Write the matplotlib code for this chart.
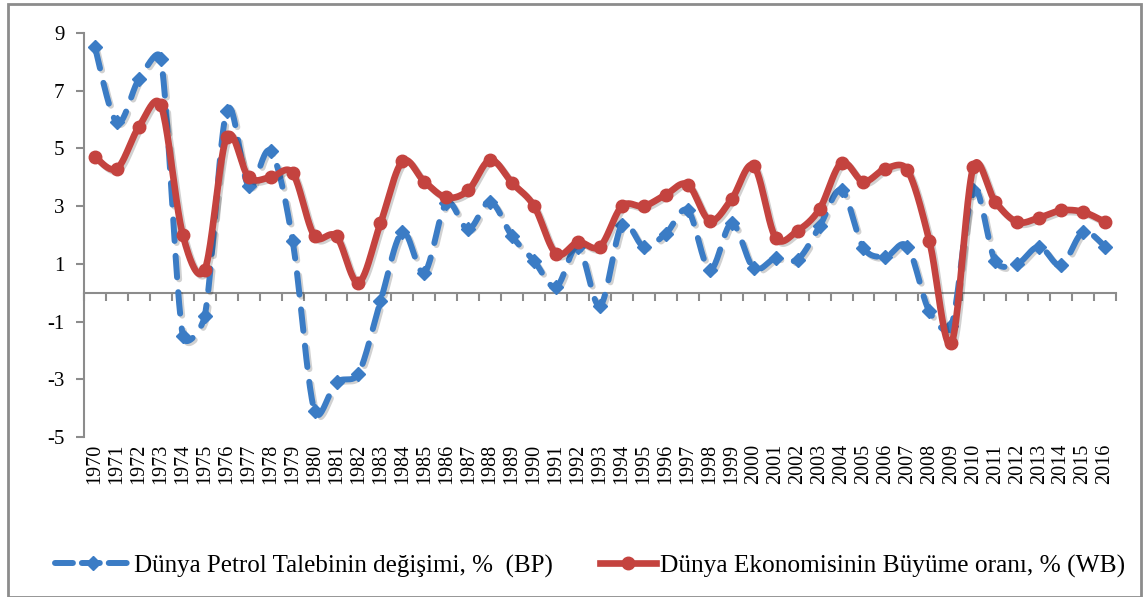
import numpy as np
import matplotlib
matplotlib.use("Agg")
import matplotlib.pyplot as plt
from matplotlib.lines import Line2D
from matplotlib.patches import Rectangle
import matplotlib.patheffects as pe

years = list(range(1970, 2017))
oil_bp = [8.5, 5.9, 7.4, 8.1, -1.5, -0.8, 6.3, 3.7, 4.9, 1.8,
          -4.1, -3.1, -2.8, -0.3, 2.1, 0.7, 3.1, 2.2, 3.15, 1.95,
          1.1, 0.2, 1.6, -0.45, 2.35, 1.6, 2.05, 2.85, 0.8, 2.4,
          0.85, 1.2, 1.15, 2.3, 3.55, 1.55, 1.25, 1.6, -0.65, -1.15,
          3.55, 1.1, 1.0, 1.6, 0.95, 2.1, 1.6]
gdp_wb = [4.7, 4.3, 5.75, 6.5, 2.0, 0.8, 5.4, 4.0, 4.0, 4.15,
          1.95, 1.95, 0.35, 2.4, 4.55, 3.85, 3.3, 3.55, 4.6, 3.8,
          3.0, 1.35, 1.75, 1.6, 3.0, 3.0, 3.4, 3.75, 2.5, 3.25,
          4.4, 1.9, 2.15, 2.9, 4.5, 3.85, 4.3, 4.25, 1.8, -1.75,
          4.35, 3.15, 2.45, 2.6, 2.85, 2.8, 2.45]
yticks = [-5, -3, -1, 1, 3, 5, 7, 9]
label_bp = "Dünya Petrol Talebinin değişimi, %  (BP)"
label_wb = "Dünya Ekonomisinin Büyüme oranı, % (WB)"

BLUE = "#3B7CC5"
RED = "#C4433F"
GRAY = "#8C8C8C"
SERIF = ["Liberation Serif", "DejaVu Serif"]


def smooth(ax, x, y, n=24, k=0.5):
    """Excel-like smoothed line: cubic Bezier through points, control
    vectors computed in screen space and clamped to the segment length."""
    pts = ax.transData.transform(np.column_stack([x, y]))
    P = np.vstack([pts[0], pts, pts[-1]])
    t = np.linspace(0, 1, n, endpoint=False)[:, None]
    out = []
    for i in range(1, len(P) - 2):
        p0, p1, p2, p3 = P[i - 1], P[i], P[i + 1], P[i + 2]
        seg = np.hypot(*(p2 - p1))
        v1 = (p2 - p0) / 6.0
        v2 = (p3 - p1) / 6.0
        for v in (v1, v2):
            L = np.hypot(*v)
            if L > k * seg and L > 0:
                v *= k * seg / L
        c1 = p1 + v1
        c2 = p2 - v2
        b = ((1 - t) ** 3) * p1 + 3 * ((1 - t) ** 2) * t * c1 + 3 * (1 - t) * t ** 2 * c2 + t ** 3 * p2
        out.append(b)
    out.append(P[-2][None, :])
    res = ax.transData.inverted().transform(np.vstack(out))
    return res[:, 0], res[:, 1]


fig = plt.figure(figsize=(11.44, 5.97), dpi=100)
ax = fig.add_axes([84 / 1144, 1 - 437 / 597, (1116 - 84) / 1144, (437 - 33) / 597])
ax.set_xlim(-0.5, len(years) - 0.5)
ax.set_ylim(-5, 9)

xi = np.arange(len(years))
shadow = [pe.SimpleLineShadow(offset=(1.5, -1.5), alpha=0.18, shadow_color="k"), pe.Normal()]

bx, by = smooth(ax, xi, oil_bp)
ax.plot(bx, by, color=BLUE, lw=4.3, dashes=(3.6, 2.5), dash_capstyle="round",
        solid_capstyle="round", zorder=3, path_effects=shadow)
ax.plot(xi, oil_bp, linestyle="none", marker="D", markersize=7, color=BLUE, zorder=3)

rx, ry = smooth(ax, xi, gdp_wb)
ax.plot(rx, ry, color=RED, lw=4.8, solid_capstyle="round", zorder=4, path_effects=shadow)
ax.plot(xi, gdp_wb, linestyle="none", marker="o", markersize=9, color=RED, zorder=4)

for s in ["top", "right"]:
    ax.spines[s].set_visible(False)
ax.spines["left"].set_color(GRAY)
ax.spines["left"].set_linewidth(1.5)
ax.spines["bottom"].set_color(GRAY)
ax.spines["bottom"].set_linewidth(1.5)
ax.spines["bottom"].set_position(("data", 0))

ax.set_yticks(yticks)
ax.set_yticklabels([str(v) for v in yticks], family=SERIF, fontsize=15)
ax.tick_params(axis="y", direction="out", length=6, width=1.5, color=GRAY, pad=8)

ax.set_xticks([])
ax.set_xticks(np.arange(len(years) + 1) - 0.5, minor=True)
ax.tick_params(axis="x", which="minor", direction="out", length=6, width=1.5, color=GRAY)
ax.tick_params(axis="x", which="major", length=0, labelbottom=False)

sec = ax.secondary_xaxis("bottom")
sec.set_xticks(xi)
sec.set_xticklabels([str(y) for y in years], rotation=90, family=SERIF, fontsize=14.5)
sec.tick_params(length=0, pad=5)
sec.spines["bottom"].set_visible(False)

h_bp = Line2D([], [], color=BLUE, lw=4.3, dashes=(3.0, 1.5), dash_capstyle="round",
              marker="D", markersize=7)
h_wb = Line2D([], [], color=RED, lw=4.8, marker="o", markersize=9)
yleg = 1 - 566 / 597
leg1 = fig.legend([h_bp], [label_bp], loc="center left", bbox_to_anchor=(55 / 1144, yleg),
                  frameon=False, prop={"family": SERIF, "size": 18},
                  handlelength=3.0, handletextpad=0.15, borderpad=0, borderaxespad=0)
leg2 = fig.legend([h_wb], [label_wb], loc="center left", bbox_to_anchor=(600 / 1144, yleg),
                  frameon=False, prop={"family": SERIF, "size": 18.3},
                  handlelength=2.2, handletextpad=0.15, borderpad=0, borderaxespad=0)

fig.add_artist(Rectangle((8 / 1144, 0), (1141 - 8) / 1144, 1 - 4 / 597,
                         transform=fig.transFigure, fill=False, edgecolor=GRAY, lw=2.0))

fig.savefig("out.png", dpi=100)
